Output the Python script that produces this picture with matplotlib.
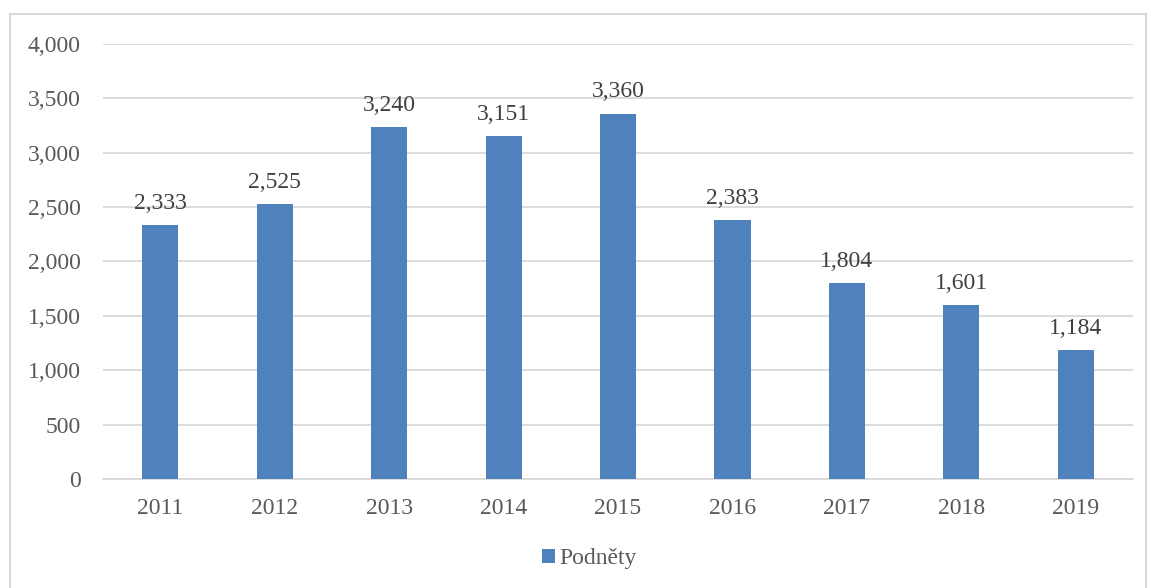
import matplotlib
matplotlib.use("Agg")
import matplotlib.pyplot as plt
from matplotlib.patches import Rectangle
from matplotlib.ticker import FuncFormatter

years = ["2011", "2012", "2013", "2014", "2015", "2016", "2017", "2018", "2019"]
values = [2333, 2525, 3240, 3151, 3360, 2383, 1804, 1601, 1184]
series_name = "Podněty"

plt.rcParams["font.family"] = ["Liberation Serif", "DejaVu Serif"]

bar_color = "#4F81BD"
grid_color = "#D9D9D9"
text_color = "#595959"

fig = plt.figure(figsize=(11.51, 5.88), dpi=100)
ax = fig.add_axes([0.0895, 0.1854, 0.8949, 0.7398])

x = range(len(years))
bars = ax.bar(x, values, width=0.315, color=bar_color, zorder=3, label=series_name)

for xi, v in zip(x, values):
    ax.annotate(f"{v:,}", (xi, v), xytext=(0, 8), textcoords="offset points",
                ha="center", va="bottom", fontsize=17, color="#404040")

ax.set_xlim(-0.5, len(years) - 0.5)
ax.set_ylim(0, 4000)
ax.set_yticks(range(0, 4001, 500))
ax.yaxis.set_major_formatter(FuncFormatter(lambda v, p: f"{int(v):,}"))
ax.set_xticks(list(x))
ax.set_xticklabels(years)
ax.tick_params(axis="both", length=0, labelsize=17, labelcolor=text_color)
ax.tick_params(axis="y", pad=16)
ax.tick_params(axis="x", pad=14)
ax.grid(axis="y", color=grid_color, linewidth=1.3, zorder=0)
for s in ["top", "right", "left"]:
    ax.spines[s].set_visible(False)
ax.spines["bottom"].set_color(grid_color)
ax.spines["bottom"].set_linewidth(1.3)

fig.legend(loc="center", bbox_to_anchor=(0.512, 0.05), frameon=False, fontsize=17,
           labelcolor=text_color, handlelength=0.55, handleheight=0.55, handletextpad=0.2)

fig.patches.append(Rectangle((0.0087, -0.02), 0.987, 0.996, transform=fig.transFigure,
                             fill=False, edgecolor=grid_color, linewidth=1.5))

fig.savefig("out.png", dpi=100)
